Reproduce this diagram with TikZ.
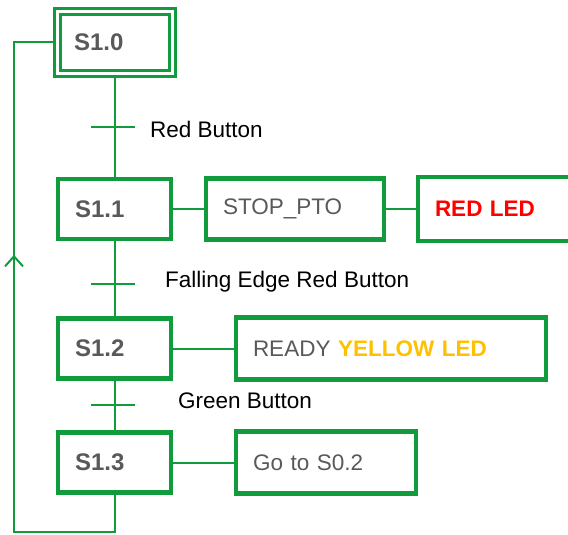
\documentclass[tikz,border=0pt]{standalone}
\usepackage{fontspec}
\setmainfont{Liberation Sans}
\usetikzlibrary{arrows.meta,positioning,decorations.markings}
\definecolor{grafgreen}{HTML}{109C3C}
\definecolor{labelgray}{HTML}{595959}
\definecolor{ledred}{HTML}{FF0000}
\definecolor{ledyellow}{HTML}{FFC000}
\tikzset{
  stepbox/.style={draw=grafgreen,fill=white,line width=4.3pt,minimum height=60pt,
                  inner xsep=17pt,inner ysep=0pt,align=left,text=labelgray,
                  font=\fontsize{24}{28}\selectfont\bfseries},
  initbox/.style={stepbox,line width=3pt,double=white,double distance=3pt,
                  outer sep=4.5pt,minimum height=62pt},
  actbox/.style={draw=grafgreen,fill=white,line width=4.3pt,inner xsep=17pt,
                 inner ysep=0pt,align=left,text=labelgray,
                 font=\fontsize{22.5}{27}\selectfont},
  link/.style={draw,color=grafgreen,line width=2pt},
  cond/.style={anchor=base west,text=black,inner sep=0pt,
               font=\fontsize{22.5}{27}\selectfont}
}
\begin{document}
\begin{tikzpicture}[x=1pt,y=-1pt]
    \useasboundingbox (0,0) rectangle (568,535);

    \node[initbox,text width=81pt] (S10) at (114.5,42.5) {S1.0};
    \node[stepbox,text width=79pt] (S11) at (114.5,209) {S1.1};
    \node[stepbox,text width=79pt] (S12) at (114.5,348.5) {S1.2};
    \node[stepbox,text width=79pt] (S13) at (114.5,462.5) {S1.3};

    \node[actbox,text width=144pt,minimum height=61pt] (stop) at (295,209) {STOP\_PTO};
    \node[actbox,text width=138pt,minimum height=64pt] (redled) at (504,209)
      {\textbf{\color{ledred}RED LED}};
    \node[actbox,text width=276pt,minimum height=62pt] (ready) at (391,348.5)
      {READY \textbf{\color{ledyellow}YELLOW LED}};
    \node[actbox,text width=146pt,minimum height=62pt] (goto) at (326,462.5) {Go to S0.2};

    \draw[link] (S10.south) -- (S11.north);
    \draw[link] (S11.south) -- (S12.north);
    \draw[link] (S12.south) -- (S13.north);
    \draw[link] (S11) -- (stop);
    \draw[link] (stop) -- (redled);
    \draw[link] (S12) -- (ready);
    \draw[link] (S13) -- (goto);

    \foreach \n/\y/\lx/\ly/\lab in {t1/127/150/137/Red Button,
        t2/284/165/287/Falling Edge Red Button,t3/405/178/408/Green Button}{
      \draw[link] (91,\y) -- (135,\y);
      \node[cond] (\n) at (\lx,\ly) {\lab};
    }

    \coordinate (loopbot) at (14,532);
    \draw[link,postaction={decorate},
          decoration={markings,mark=at position 415pt with
            {\arrow{Straight Barb[length=10pt,width=18pt]}}}]
      (S13.south) |- (loopbot) |- (S10.west);
\end{tikzpicture}
\end{document}
